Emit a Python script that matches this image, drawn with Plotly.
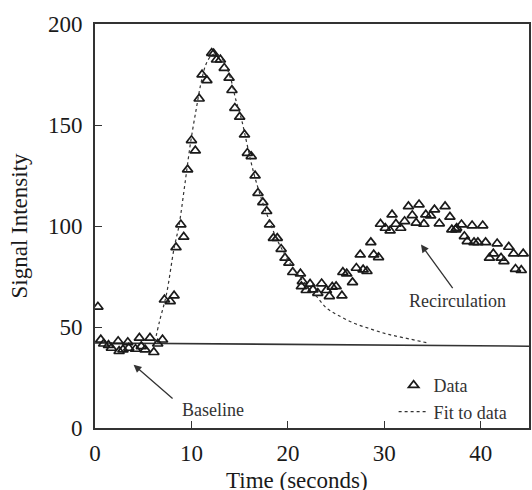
import plotly.graph_objects as go

# Measured signal (time in s, intensity)
t_data = [0.3, 0.6, 0.9, 1.4, 1.7, 2.4, 2.5, 2.9, 3.4, 3.5, 4.2, 4.6, 4.8, 5.2, 5.7,
          6.1, 6.5, 7.0, 7.2, 7.8, 8.2, 8.4, 8.9, 9.2, 9.6, 10.0, 10.4, 10.8, 11.1, 11.6,
          12.1, 12.3, 12.6, 13.0, 13.4, 13.9, 14.2, 14.5, 15.0, 15.5, 15.8, 16.2, 16.6, 16.9, 17.4,
          17.8, 18.1, 18.5, 18.9, 19.3, 19.7, 20.1, 20.5, 21.3, 21.4, 21.5, 21.9, 22.3, 22.6, 23.1,
          23.5, 24.0, 24.3, 24.6, 25.0, 25.6, 25.7, 26.1, 26.7, 27.1, 27.5, 27.8, 28.2, 28.6, 28.9,
          29.4, 29.6, 30.1, 30.6, 30.8, 31.2, 31.7, 32.1, 32.5, 32.9, 33.3, 33.6, 34.1, 34.3, 34.8,
          35.2, 35.7, 36.3, 36.8, 37.0, 37.4, 37.5, 38.0, 38.3, 38.6, 39.1, 39.3, 39.7, 40.2, 40.5,
          40.9, 41.3, 41.7, 42.1, 42.4, 42.9, 43.4, 43.6, 44.2, 44.4]
signal = [60, 43.7, 41.7, 41, 39.6, 42.9, 38, 38.8, 42.4, 39.6, 39.1, 44.6, 40.4, 38.8, 44.6,
          37.5, 41.7, 43.7, 63.5, 62.7, 65.5, 89.4, 100.7, 94.6, 127.9, 142.4, 137.3, 163, 174.9, 172.1,
          185.6, 185.3, 182.3, 182.3, 178.2, 173.3, 167.2, 158.4, 154, 145.2, 136.1, 134.5, 124.9, 116.3, 111.7,
          107.3, 100.7, 94, 94, 88.6, 84.2, 81.7, 77.1, 76.4, 70.1, 72.6, 68.2, 71.3, 68.5, 66.8,
          71.5, 68.2, 65.2, 69.8, 70.1, 65.5, 77.1, 76.4, 72.1, 79.2, 85.8, 78.4, 77.6, 91.9, 85.8,
          84.5, 101, 99, 97.7, 105.6, 101, 99, 102.3, 109.7, 105.3, 101.5, 110.6, 101, 105.6, 105.1,
          108.1, 101.2, 109.7, 104.5, 98.2, 98.2, 99, 100.7, 94.9, 92.4, 100.2, 91.9, 91.9, 100.2, 91.9,
          84.2, 86.3, 91.3, 84.2, 82.5, 89.6, 86.3, 78.7, 78.1, 86.3]

# Fitted first-pass curve
t_fit = [6.2, 6.7, 7.4, 8.2, 8.7, 9.3, 9.9, 10.5, 11.0, 11.5, 12.0, 12.5, 13.1, 13.6, 14.1,
         14.6, 15.2, 15.7, 16.2, 16.7, 17.4, 18.1, 18.8, 19.5, 20.2, 20.9, 21.6, 22.3, 23.0,
         24.0, 25.1, 26.8, 28.6, 30.3, 32.1, 34.5]
y_fit = [42.5, 53, 66, 89, 100, 120, 141, 158, 171, 180, 184, 185.3, 183.2, 179, 172.4,
         162.5, 152.6, 141.9, 131.2, 122.1, 111.4, 102.3, 94, 87.5, 81.7, 76.7, 72.6, 68.5, 65,
         59.4, 56.1, 52, 49, 46.5, 44.6, 42.1]

# Baseline level
t_base = [0, 45]
y_base = [42.1, 40.5]

x_ticks = [0, 10, 20, 30, 40]
y_ticks = [0, 50, 100, 150, 200]

FONT = "Liberation Serif"
INK = "#1a1a1a"

# Plot-area geometry (pixels)
W, H = 532, 490
M_L, M_R, M_T, M_B = 95, 1, 24, 62
plot_w = W - M_L - M_R
plot_h = H - M_T - M_B
bottom_px = H - M_B

fig = go.Figure()
fig.add_trace(go.Scatter(x=t_base, y=y_base, mode="lines", showlegend=False,
                         line=dict(color="#333333", width=1.6), hoverinfo="skip"))
fig.add_trace(go.Scatter(x=t_data, y=signal, mode="markers", name="Data",
                         marker=dict(symbol="triangle-up-open", size=9, color=INK,
                                     line=dict(width=1.7, color=INK))))
fig.add_trace(go.Scatter(x=t_fit, y=y_fit, mode="lines", name="Fit to data",
                         line=dict(color="#333333", width=1.2, dash="3px,3px", shape="spline")))

fig.add_annotation(x=4.0, y=31.3, ax=8.2, ay=14, axref="x", ayref="y", xref="x", yref="y",
                   showarrow=True, arrowhead=2, arrowsize=1.2, arrowwidth=1.3, arrowcolor="#333",
                   text="")
fig.add_annotation(x=12.2, y=9, text="Baseline", showarrow=False, xref="x", yref="y",
                   font=dict(family=FONT, size=18, color="#333"))
fig.add_annotation(x=33.8, y=90.8, ax=37.2, ay=68.5, axref="x", ayref="y", xref="x", yref="y",
                   showarrow=True, arrowhead=2, arrowsize=1.2, arrowwidth=1.3, arrowcolor="#333",
                   text="")
fig.add_annotation(x=37.6, y=62.8, text="Recirculation", showarrow=False, xref="x", yref="y",
                   font=dict(family=FONT, size=18, color="#333"))

# x-axis title, placed below the tick labels
fig.add_annotation(x=(298 - M_L) / plot_w, y=(bottom_px - 480) / plot_h, xref="paper", yref="paper",
                   yanchor="middle", text="Time (seconds)", showarrow=False,
                   font=dict(family=FONT, size=23, color=INK))

fig.update_layout(
    width=W, height=H,
    margin=dict(l=M_L, r=M_R, t=M_T, b=M_B),
    plot_bgcolor="white", paper_bgcolor="white",
    font=dict(family=FONT, size=22, color=INK),
    showlegend=True,
    legend=dict(x=(395 - M_L) / plot_w, y=(bottom_px - 367) / plot_h, xanchor="left", yanchor="top",
                bgcolor="rgba(0,0,0,0)", font=dict(family=FONT, size=18, color="#333"),
                tracegroupgap=0, itemwidth=30),
    xaxis=dict(range=[0, 45], tickvals=x_ticks, ticktext=[str(v) for v in x_ticks],
               showgrid=False, zeroline=False, showline=True, linecolor="#333", linewidth=1.6,
               mirror=True, ticks="inside", ticklen=7, tickwidth=1.4, tickcolor="#333",
               ticklabelstandoff=4,
               tickfont=dict(family=FONT, size=23, color=INK)),
    yaxis=dict(range=[0, 200], tickvals=y_ticks, ticktext=[str(v) for v in y_ticks],
               showgrid=False, zeroline=False, showline=True, linecolor="#333", linewidth=1.6,
               mirror=True, ticks="inside", ticklen=7, tickwidth=1.4, tickcolor="#333",
               ticklabelstandoff=6,
               tickfont=dict(family=FONT, size=23, color=INK),
               title=dict(text="Signal Intensity", font=dict(family=FONT, size=23, color=INK),
                          standoff=14)),
)

fig.write_html("out.html")
